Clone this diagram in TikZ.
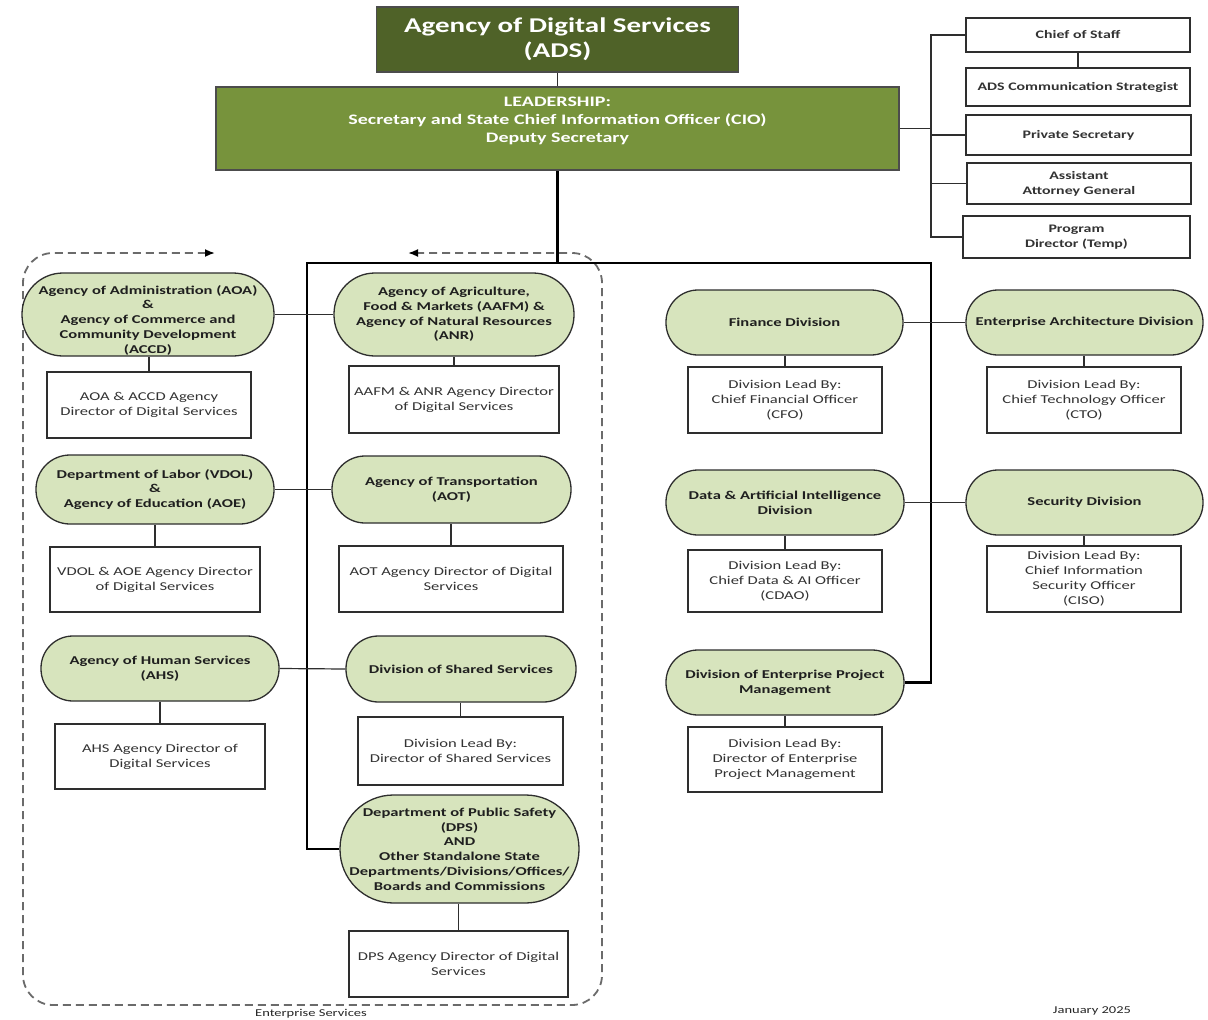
\documentclass[tikz,border=0pt]{standalone}
\usepackage{fontspec}
\setmainfont{Carlito}[FakeStretch=1.38]
\usetikzlibrary{arrows.meta,backgrounds}
\definecolor{adsdark}{HTML}{4F6228}
\definecolor{adsmid}{HTML}{77933C}
\definecolor{adslight}{HTML}{D7E4BD}
\definecolor{linegray}{HTML}{2E2E2E}
\definecolor{boxtext}{HTML}{333333}
\begin{document}
\begin{tikzpicture}[x=1pt,y=-1pt,
  ell/.style n args={2}{rectangle, rounded corners=#2*0.5pt-0.5pt, minimum width=#1pt, minimum height=#2pt,
    draw=linegray, line width=1.3pt, fill=adslight, align=center,
    font=\fontsize{12}{14.75}\selectfont\bfseries, text=black!88, inner sep=0pt},
  box/.style n args={2}{rectangle, minimum width=#1pt, minimum height=#2pt, draw=linegray, line width=1.3pt,
    fill=white, align=center, font=\fontsize{12}{15}\selectfont, text=boxtext, inner sep=1pt},
  staff/.style n args={2}{box={#1}{#2}, font=\fontsize{11.5}{15}\selectfont\bfseries},
  conn/.style={draw=linegray, line width=1.2pt},
  trunk/.style={draw=black, line width=3pt},
  vline/.style={draw=black, line width=2.2pt, line join=miter},
  ent/.style={draw=black!58, line width=1.8pt, dash pattern=on 8pt off 5pt, rounded corners=30pt,
    {Latex[length=10pt,width=8pt,black]}-{Latex[length=10pt,width=8pt,black]}},
  foot/.style={font=\fontsize{10.5}{12}\selectfont, text=black!85, inner sep=0pt},
]
\useasboundingbox (0,0) rectangle (1208,1020);

% top
\node[rectangle, draw=black!70, line width=1.3pt, fill=adsdark, minimum width=362pt, minimum height=65pt,
  align=center, text=white, font=\fontsize{21}{25}\selectfont\bfseries] (title) at (557.5,39.5)
  {Agency of Digital Services\\(ADS)};
\node[rectangle, draw=black!70, line width=1.3pt, fill=adsmid, minimum width=683pt, minimum height=83pt] (lead) at (557.5,128.5) {};
\node[align=center, text=white, font=\fontsize{14.5}{18}\selectfont\bfseries, inner sep=0pt] (leadtext) at (557.5,121)
  {LEADERSHIP:\\Secretary and State Chief Information Officer (CIO)\\Deputy Secretary};

% staff
\node[staff={224}{34}] (cos) at (1078,35) {Chief of Staff};
\node[staff={224}{38}] (comm) at (1078,87) {ADS Communication Strategist};
\node[staff={225}{40}] (priv) at (1078.5,135) {Private Secretary};
\node[staff={224}{41}] (aag) at (1079,183.5) {Assistant\\Attorney General};
\node[staff={227}{42}] (prog) at (1076.5,237) {Program\\Director (Temp)};
\coordinate (spine) at (931,0);

% left column
\node[ell={252}{83}] (aoa) at (148,314.5) {};
\node[align=center, font=\fontsize{12}{14.75}\selectfont\bfseries, text=black!88, inner sep=0pt] (aoatext) at (148,320)
  {Agency of Administration (AOA)\\\&\\Agency of Commerce and\\Community Development\\(ACCD)};
\node[ell={240}{83}] (aafm) at (454,314.5)
  {Agency of Agriculture,\\Food \& Markets (AAFM) \&\\Agency of Natural Resources\\(ANR)};
\node[box={204}{66}] (aoabox) at (149,405) {AOA \& ACCD Agency\\Director of Digital Services};
\node[box={210}{67}] (aafmbox) at (454,399.5) {AAFM \& ANR Agency Director\\of Digital Services};

\node[ell={238}{69}] (vdol) at (155,489.5)
  {Department of Labor (VDOL)\\\&\\Agency of Education (AOE)};
\node[ell={239}{67}] (aot) at (451.5,489.5)
  {Agency of Transportation\\(AOT)};
\node[box={210}{65}] (vdolbox) at (155,579.5) {VDOL \& AOE Agency Director\\of Digital Services};
\node[box={224}{66}] (aotbox) at (451,579) {AOT Agency Director of Digital\\Services};

\node[ell={238}{65}] (ahs) at (160,668.5) {Agency of Human Services\\(AHS)};
\node[ell={230}{66}] (dss) at (461,669) {Division of Shared Services};
\node[box={210}{65}] (ahsbox) at (160,756.5) {AHS Agency Director of\\Digital Services};
\node[box={205}{68}] (dssbox) at (460.5,751) {Division Lead By:\\Director of Shared Services};

\node[ell={239}{108}] (dps) at (459.5,849)
  {Department of Public Safety\\(DPS)\\AND\\Other Standalone State\\Departments/Divisions/Offices/\\Boards and Commissions};
\node[box={219}{66}] (dpsbox) at (458.5,964) {DPS Agency Director of Digital\\Services};

% right column
\node[ell={237}{65}] (fin) at (784.5,322.5) {Finance Division};
\node[ell={237}{65}] (ea) at (1084.5,322.5) {Enterprise Architecture Division};
\node[box={194}{66}] (finbox) at (785,400) {Division Lead By:\\Chief Financial Officer\\(CFO)};
\node[box={194}{66}] (eabox) at (1084,400) {Division Lead By:\\Chief Technology Officer\\(CTO)};

\node[ell={238}{65}] (dai) at (785,502.5) {Data \& Artificial Intelligence\\Division};
\node[ell={237}{65}] (sec) at (1084.5,502.5) {Security Division};
\node[box={194}{62}] (daibox) at (785,581) {Division Lead By:\\Chief Data \& AI Officer\\(CDAO)};
\node[box={194}{66}] (secbox) at (1084,579) {Division Lead By:\\Chief Information\\Security Officer\\(CISO)};

\node[ell={238}{65}] (depm) at (785,682.5) {Division of Enterprise Project\\Management};
\node[box={194}{65}] (depmbox) at (785,759.5) {Division Lead By:\\Director of Enterprise\\Project Management};

% footer
\node[foot] (entlabel) at (311,1014) {Enterprise Services};
\node[foot] (date) at (1092,1011) {January 2025};

\begin{scope}[on background layer]
  \fill[white] (0,0) rectangle (1208,1020);
  % enterprise services region
  \draw[ent] (215,253) -- (23,253) -- (23,1005) -- (602,1005) -- (602,253) -- (408,253);
  % top connectors
  \draw[conn] (title.south) -- (lead.north);
  \draw[conn] (cos.west) -- (cos.west -| spine) |- (prog.west);
  \draw[conn] (lead.east) -- (lead.east -| spine);
  \draw[conn] (priv.west) -- (priv.west -| spine);
  \draw[conn] (aag.west) -- (aag.west -| spine);
  \draw[conn] (cos.south) -- (comm.north);
  % trunk
  \coordinate (hub) at (557.5,263);
  \coordinate (tl) at (307,263);
  \coordinate (tr) at (931,263);
  \draw[trunk] (lead.south) -- (hub);
  \draw[vline] (dps.west) -| (tl) -- (tr) |- (depm.east);
  % pairs
  \draw[conn] (aoa.east) -- (aafm.west);
  \draw[conn] (vdol.east) -- (aot.west);
  \draw[conn] (ahs.east) -- (dss.west);
  \draw[conn] (fin.east) -- (ea.west);
  \draw[conn] (dai.east) -- (sec.west);
  % ellipse to box
  \draw[conn] (aoabox.north) -- (aoabox.north |- aoa.south);
  \draw[conn] (aafmbox.north) -- (aafmbox.north |- aafm.south);
  \draw[conn] (vdolbox.north) -- (vdolbox.north |- vdol.south);
  \draw[conn] (aotbox.north) -- (aotbox.north |- aot.south);
  \draw[conn] (ahsbox.north) -- (ahsbox.north |- ahs.south);
  \draw[conn] (dssbox.north) -- (dssbox.north |- dss.south);
  \draw[conn] (dpsbox.north) -- (dpsbox.north |- dps.south);
  \draw[conn] (finbox.north) -- (finbox.north |- fin.south);
  \draw[conn] (eabox.north) -- (eabox.north |- ea.south);
  \draw[conn] (daibox.north) -- (daibox.north |- dai.south);
  \draw[conn] (secbox.north) -- (secbox.north |- sec.south);
  \draw[conn] (depmbox.north) -- (depmbox.north |- depm.south);
\end{scope}
\end{tikzpicture}
\end{document}
